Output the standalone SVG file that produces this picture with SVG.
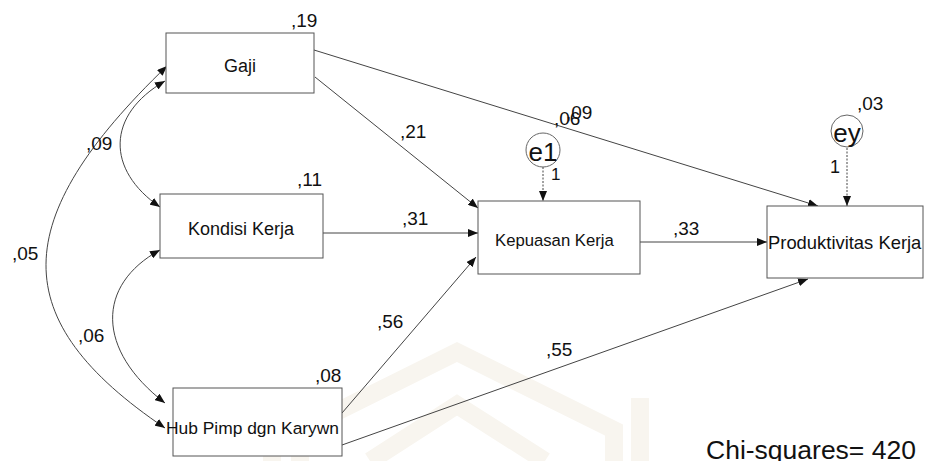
<svg xmlns="http://www.w3.org/2000/svg" width="925" height="461" viewBox="0 0 925 461">
<style>
  .box { fill: #ffffff; stroke: #555555; stroke-width: 1; }
  .err { fill: #ffffff; stroke: #666666; stroke-width: 1; }
  .t { font-family: "Liberation Sans", Arial, sans-serif; fill: #111111; }
  .lbl { font-family: "Liberation Sans", Arial, sans-serif; fill: #111111; font-size: 19px; }
  .ln { fill: none; stroke: #444444; stroke-width: 1; }
  .dash { stroke-dasharray: 2 1.5; }
  .wm { fill: none; stroke: #f8f5ef; stroke-width: 18; }
</style>
<defs>
  <marker id="ah" viewBox="0 0 10 8" refX="10" refY="4" markerWidth="10" markerHeight="8" markerUnits="userSpaceOnUse" orient="auto-start-reverse">
    <path d="M0,0 L10,4 L0,8 z" fill="#111111"/>
  </marker>
</defs>
<rect x="0" y="0" width="925" height="461" fill="#ffffff"/>
<g id="watermark">
  <polyline class="wm" points="272,461 272,398"/>
  <polyline class="wm" points="300,461 300,430 457,352 614,430 614,461"/>
  <polyline class="wm" points="370,461 457,405 545,461"/>
  <polyline class="wm" points="640,461 640,398"/>
</g>
<g id="connectors">
  <path class="ln" d="M315,77 L478,208" marker-end="url(#ah)"/>
  <path class="ln" d="M314,50 L818,206" marker-end="url(#ah)"/>
  <path class="ln" d="M323,233 L478,233" marker-end="url(#ah)"/>
  <path class="ln" d="M342,413 L476,257" marker-end="url(#ah)"/>
  <path class="ln" d="M342,445 L808,279" marker-end="url(#ah)"/>
  <path class="ln" d="M640,242 L767,242" marker-end="url(#ah)"/>
  <path class="ln dash" d="M543,167 L543,201" marker-end="url(#ah)"/>
  <path class="ln dash" d="M847,148 L847,206" marker-end="url(#ah)"/>
  <path class="ln" d="M165,81 C106,115 106,170 160,207" marker-start="url(#ah)" marker-end="url(#ah)"/>
  <path class="ln" d="M167,66 C7,220 5,320 165,428" marker-start="url(#ah)" marker-end="url(#ah)"/>
  <path class="ln" d="M160,250 C96,285 96,350 165,403" marker-start="url(#ah)" marker-end="url(#ah)"/>
  <text class="lbl" x="400" y="138">,21</text>
  <text class="lbl" x="402" y="225">,31</text>
  <text class="lbl" x="377" y="328">,56</text>
  <text class="lbl" x="546" y="356">,55</text>
  <text class="lbl" x="673" y="235">,33</text>
  <text class="lbl" x="554" y="125">,06</text>
  <text class="lbl" x="566" y="119">,09</text>
  <text class="lbl" x="86" y="150">,09</text>
  <text class="lbl" x="12" y="260">,05</text>
  <text class="lbl" x="78" y="342">,06</text>
  <text class="t" x="551" y="180" font-size="17">1</text>
  <text class="t" x="830" y="173" font-size="18">1</text>
</g>
<g id="gaji">
  <rect class="box" x="166" y="33" width="148" height="60"/>
  <text class="t" x="240" y="72" font-size="18" text-anchor="middle">Gaji</text>
  <text class="lbl" x="291" y="27">,19</text>
</g>
<g id="kondisi">
  <rect class="box" x="160" y="194" width="163" height="64"/>
  <text class="t" x="241" y="235" font-size="18" text-anchor="middle">Kondisi Kerja</text>
  <text class="lbl" x="297" y="186">,11</text>
</g>
<g id="hub">
  <rect class="box" x="173" y="388" width="169" height="68"/>
  <text class="t" x="166" y="434" font-size="17.4">Hub Pimp dgn Karywn</text>
  <text class="lbl" x="315" y="382">,08</text>
</g>
<g id="kepuasan">
  <rect class="box" x="478" y="201" width="162" height="73"/>
  <text class="t" x="495" y="246" font-size="16.7">Kepuasan Kerja</text>
</g>
<g id="produktivitas">
  <rect class="box" x="767" y="206" width="156" height="72"/>
  <text class="t" x="768" y="249" font-size="18.4">Produktivitas Kerja</text>
</g>
<g id="e1">
  <circle class="err" cx="543" cy="150" r="17"/>
  <text class="t" x="543" y="161" font-size="26" text-anchor="middle">e1</text>
</g>
<g id="ey">
  <circle class="err" cx="847" cy="131" r="16"/>
  <text class="t" x="847" y="142" font-size="26" text-anchor="middle">ey</text>
  <text class="lbl" x="857" y="110">,03</text>
</g>
<text class="t" x="706" y="459" font-size="26.5">Chi-squares= 420</text>
</svg>
